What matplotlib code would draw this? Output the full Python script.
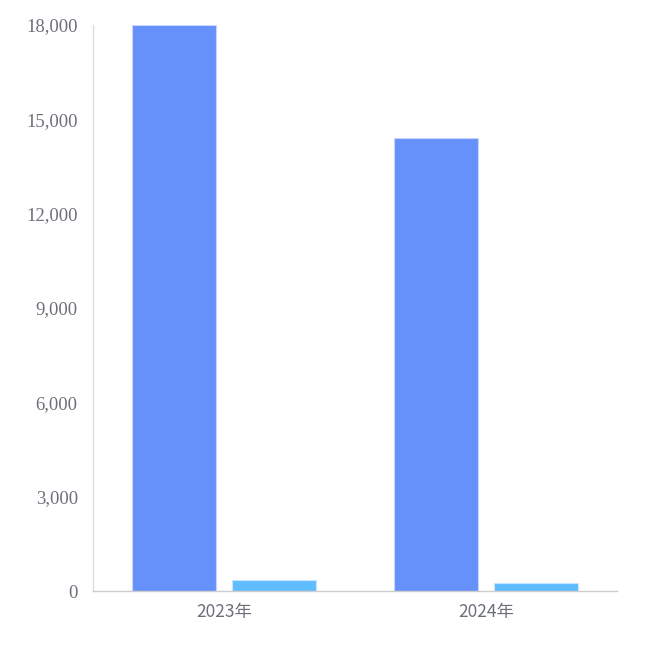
import matplotlib
matplotlib.use("Agg")
import matplotlib.pyplot as plt
import numpy as np
from matplotlib.ticker import FuncFormatter

categories = ["2023年", "2024年"]
series_a = [18000, 14400]
series_b = [350, 260]
yticks = [0, 3000, 6000, 9000, 12000, 15000, 18000]

fig = plt.figure(figsize=(6.5, 6.5), dpi=100)
ax = fig.add_axes([93/650, 1-591/650, (617-93)/650, (591-25)/650])

x = np.arange(len(categories))
w = 0.32
off = 0.191
ax.bar(x - off, series_a, width=w, color="#6691fa", edgecolor="#c8d6fd", linewidth=0.8)
ax.bar(x + off, series_b, width=w, color="#5fbcff", edgecolor="#c5e6ff", linewidth=0.8)

ax.set_xlim(-0.5, 1.5)
ax.set_ylim(0, 18000)
ax.set_yticks(yticks)
ax.yaxis.set_major_formatter(FuncFormatter(lambda v, p: f"{int(v):,}"))
ax.set_xticks(x)
ax.set_xticklabels(categories, family=["Noto Sans CJK SC", "DejaVu Sans"], fontsize=12.5, color="#6e7079")
for lab in ax.get_yticklabels():
    lab.set_family("Liberation Serif")
    lab.set_fontsize(13.5)
    lab.set_color("#6e7079")
ax.tick_params(axis="both", length=0)
ax.tick_params(axis="y", pad=11)
ax.tick_params(axis="x", pad=9)
for s in ["top", "right"]:
    ax.spines[s].set_visible(False)
ax.spines["left"].set_color("#dddddd")
ax.spines["bottom"].set_color("#cccccc")
ax.spines["left"].set_linewidth(1)
ax.spines["bottom"].set_linewidth(1)

fig.savefig("out.png", dpi=100)
